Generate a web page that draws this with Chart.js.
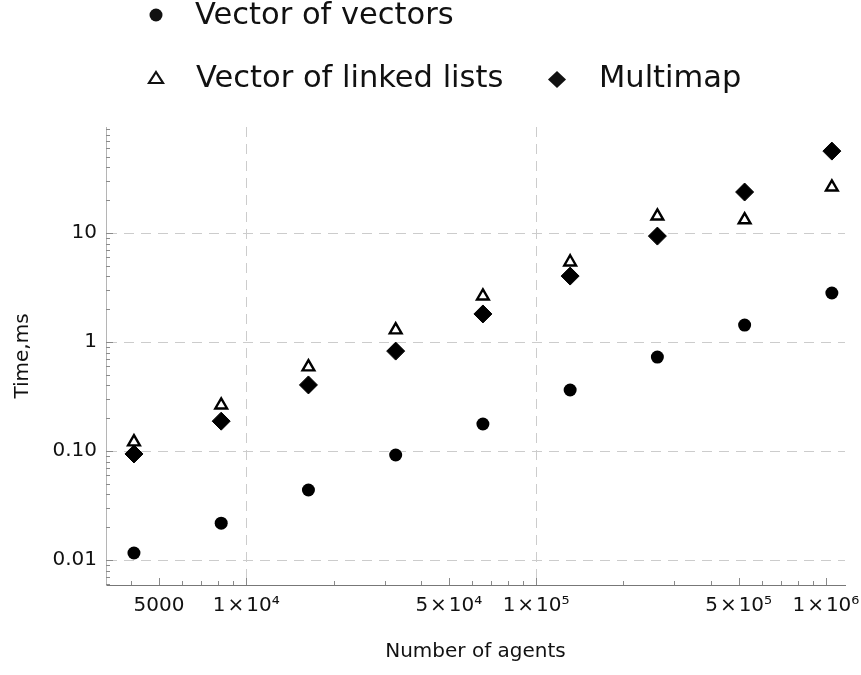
<!DOCTYPE html>
<html>
<head>
<meta charset="utf-8">
<script src="https://cdn.jsdelivr.net/npm/chart.js@4.4.1/dist/chart.umd.min.js"></script>
<style>
  html, body { margin: 0; padding: 0; background: #fff; }
  #wrap { position: relative; width: 861px; height: 675px; }
</style>
</head>
<body>
<div id="wrap"><canvas id="chart" width="861" height="675"></canvas></div>
<script>
// number of agents (x) and timings in ms (y)
const agents = [4096, 8192, 16384, 32768, 65536, 131072, 262144, 524288, 1048576];
const vectorOfVectors = [0.0116, 0.0218, 0.0439, 0.092, 0.177, 0.363, 0.728, 1.43, 2.82];
const vectorOfLinkedLists = [0.121, 0.264, 0.59, 1.29, 2.64, 5.42, 14.3, 13.2, 26.4];
const multimap = [0.094, 0.188, 0.404, 0.826, 1.81, 4.03, 9.38, 23.8, 56.5];

const seriesNames = ['Vector of vectors', 'Vector of linked lists', 'Multimap'];

const xTickValues = [5000, 10000, 50000, 100000, 500000, 1000000];
const xTickLabels = ['5000', '1\u200a×\u200a10⁴', '5\u200a×\u200a10⁴', '1\u200a×\u200a10⁵', '5\u200a×\u200a10⁵', '1\u200a×\u200a10⁶'];
const yTickValues = [0.01, 0.1, 1, 10];
const yTickLabels = ['0.01', '0.10', '1', '10'];
const xGridAt = [10000, 100000];
const yGridAt = [0.01, 0.1, 1, 10];

const FONT = 'DejaVu Sans';

// minor tick positions (1..9 per decade)
function decadeTicks(lo, hi) {
  const out = [];
  for (let e = Math.floor(Math.log10(lo)); e <= Math.ceil(Math.log10(hi)); e++) {
    for (let m = 1; m <= 9; m++) {
      const v = parseFloat((m * Math.pow(10, e)).toPrecision(6));
      if (v >= lo && v <= hi) out.push(v);
    }
  }
  return out;
}
const X_MIN = 3280, X_MAX = 1164000, Y_MIN = 0.0059, Y_MAX = 94;
const xMinor = decadeTicks(X_MIN, X_MAX);
const yMinor = decadeTicks(Y_MIN, Y_MAX);

const near = (a, b) => Math.abs(a - b) <= Math.abs(b) * 1e-6;
const findIdx = (arr, v) => arr.findIndex(t => near(v, t));

const pts = vals => agents.map((a, i) => ({ x: a, y: vals[i] }));

const minorTicks = {
  id: 'minorTicks',
  beforeDatasetsDraw(chart) {
    const { ctx, chartArea, scales: { x, y } } = chart;
    ctx.save();
    ctx.strokeStyle = '#8a8a8a';
    ctx.lineWidth = 1;
    ctx.beginPath();
    xMinor.forEach(v => {
      const px = Math.round(x.getPixelForValue(v)) + 0.5;
      const m = v / Math.pow(10, Math.floor(Math.log10(v) + 1e-9));
      const len = (near(m, 1) || near(m, 5)) ? 7 : 4;
      ctx.moveTo(px, chartArea.bottom);
      ctx.lineTo(px, chartArea.bottom - len);
    });
    yMinor.forEach(v => {
      const py = Math.round(y.getPixelForValue(v)) + 0.5;
      const m = v / Math.pow(10, Math.floor(Math.log10(v) + 1e-9));
      const len = near(m, 1) ? 7 : 4;
      ctx.moveTo(chartArea.left, py);
      ctx.lineTo(chartArea.left + len, py);
    });
    ctx.stroke();
    ctx.restore();
  }
};

const topLegend = {
  id: 'topLegend',
  afterDraw(chart) {
    const ctx = chart.ctx;
    ctx.save();
    ctx.fillStyle = '#111';
    ctx.strokeStyle = '#111';
    ctx.font = '30.5px "' + FONT + '"';
    ctx.textBaseline = 'alphabetic';
    ctx.textAlign = 'left';

    // circle
    ctx.beginPath();
    ctx.arc(156, 15, 6.5, 0, Math.PI * 2);
    ctx.fill();
    ctx.fillText(seriesNames[0], 195, 24);

    // open triangle
    ctx.beginPath();
    ctx.moveTo(156, 72);
    ctx.lineTo(163, 83);
    ctx.lineTo(149, 83);
    ctx.closePath();
    ctx.fillStyle = '#fff';
    ctx.fill();
    ctx.lineWidth = 2.2;
    ctx.stroke();
    ctx.fillStyle = '#111';
    ctx.fillText(seriesNames[1], 196, 87);

    // diamond
    ctx.beginPath();
    ctx.moveTo(557, 71);
    ctx.lineTo(566, 79.5);
    ctx.lineTo(557, 88);
    ctx.lineTo(548, 79.5);
    ctx.closePath();
    ctx.fill();
    ctx.fillText(seriesNames[2], 599, 87);
    ctx.restore();
  }
};

new Chart(document.getElementById('chart'), {
  type: 'scatter',
  data: {
    datasets: [
      {
        label: seriesNames[0],
        data: pts(vectorOfVectors),
        pointStyle: 'circle',
        pointRadius: 6.5,
        backgroundColor: '#000',
        borderColor: '#000',
        borderWidth: 0,
        order: 2,
      },
      {
        label: seriesNames[1],
        data: pts(vectorOfLinkedLists),
        pointStyle: 'triangle',
        pointRadius: 6.8,
        backgroundColor: '#fff',
        borderColor: '#000',
        borderWidth: 2.4,
        order: 1,
      },
      {
        label: seriesNames[2],
        data: pts(multimap),
        pointStyle: 'rectRot',
        pointRadius: 9,
        backgroundColor: '#000',
        borderColor: '#000',
        borderWidth: 1,
        order: 0,
      },
    ],
  },
  options: {
    responsive: false,
    animation: false,
    events: [],
    layout: { padding: { top: 127, right: 16, left: 0, bottom: 0 } },
    plugins: {
      legend: { display: false },
      tooltip: { enabled: false },
    },
    scales: {
      x: {
        type: 'logarithmic',
        min: X_MIN,
        max: X_MAX,
        afterBuildTicks: s => { s.ticks = xMinor.map(v => ({ value: v })); },
        afterFit: s => { s.height = 90; s.paddingLeft = 0; s.paddingRight = 0; },
        border: { color: '#777', width: 1, dash: [10, 7] },
        grid: {
          drawTicks: false,
          lineWidth: 1,
          color: c => (c.tick && findIdx(xGridAt, c.tick.value) >= 0) ? '#cccccc' : 'rgba(0,0,0,0)',
        },
        ticks: {
          autoSkip: false,
          maxRotation: 0,
          padding: 9,
          color: '#111',
          font: { family: FONT, size: 20 },
          callback: v => { const i = findIdx(xTickValues, v); return i >= 0 ? xTickLabels[i] : ''; },
        },
        title: {
          display: true,
          text: 'Number of agents',
          color: '#111',
          font: { family: FONT, size: 20 },
          padding: { top: 0, bottom: 11 },
        },
      },
      y: {
        type: 'logarithmic',
        min: Y_MIN,
        max: Y_MAX,
        afterBuildTicks: s => { s.ticks = yMinor.map(v => ({ value: v })); },
        afterFit: s => { s.width = 106; s.paddingTop = 0; s.paddingBottom = 0; },
        border: { color: '#b5b5b5', width: 1, dash: [10, 7] },
        grid: {
          drawTicks: false,
          lineWidth: 1,
          color: c => (c.tick && findIdx(yGridAt, c.tick.value) >= 0) ? '#cccccc' : 'rgba(0,0,0,0)',
        },
        ticks: {
          autoSkip: false,
          padding: 9,
          color: '#111',
          font: { family: FONT, size: 20 },
          callback: v => { const i = findIdx(yTickValues, v); return i >= 0 ? yTickLabels[i] : ''; },
        },
        title: {
          display: true,
          text: 'Time,ms',
          color: '#111',
          font: { family: FONT, size: 20 },
          padding: { top: 11, bottom: 0 },
        },
      },
    },
  },
  plugins: [minorTicks, topLegend],
});
</script>
</body>
</html>
